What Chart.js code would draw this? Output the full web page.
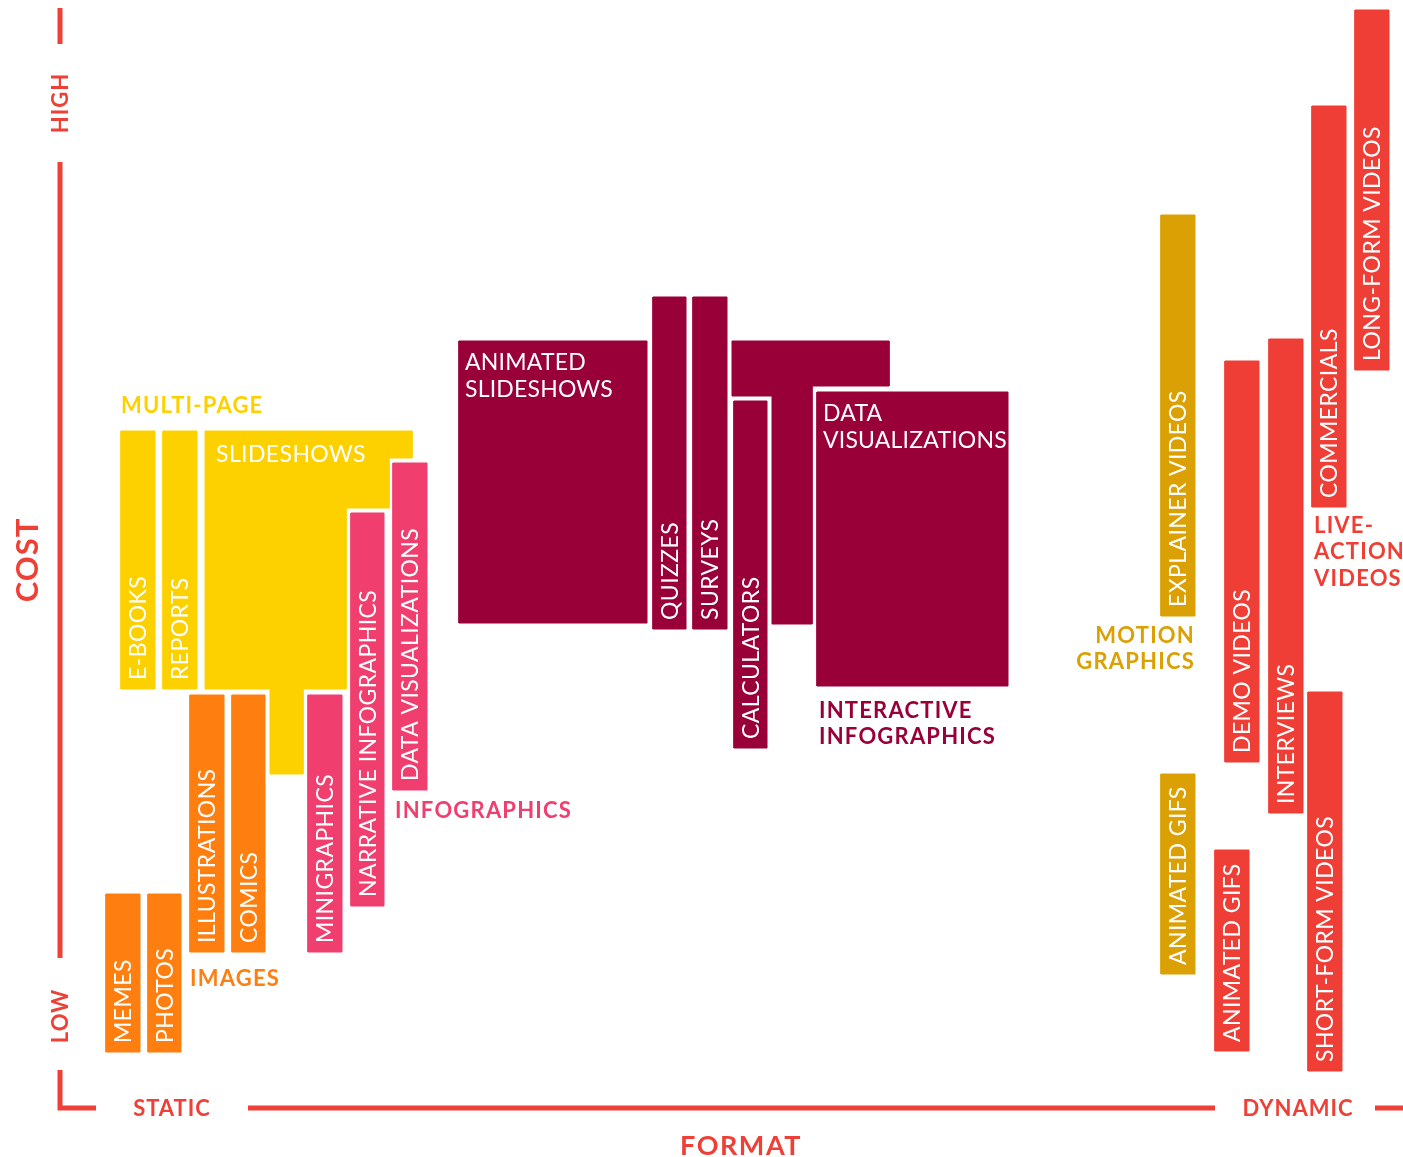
<!DOCTYPE html>
<html>
<head>
<meta charset="utf-8">
<script src="https://cdn.jsdelivr.net/npm/chart.js@4.4.1/dist/chart.umd.min.js"></script>
<style>
  body { margin: 0; background: #fff; }
  #wrap { position: relative; width: 1403px; height: 1157px; }
</style>
</head>
<body>
<div id="wrap"><canvas id="chart"></canvas></div>
<script>
// x = format (static -> dynamic), y = cost (low -> high)
const boxNames = ['E-BOOKS', 'REPORTS', 'MEMES', 'PHOTOS', 'ILLUSTRATIONS', 'COMICS',
  'MINIGRAPHICS', 'NARRATIVE INFOGRAPHICS', 'DATA VISUALIZATIONS',
  'ANIMATED SLIDESHOWS', 'QUIZZES', 'SURVEYS', 'CALCULATORS', 'DATA VISUALIZATIONS',
  'EXPLAINER VIDEOS', 'ANIMATED GIFS',
  'DEMO VIDEOS', 'INTERVIEWS', 'COMMERCIALS', 'LONG-FORM VIDEOS', 'ANIMATED GIFS', 'SHORT-FORM VIDEOS'];
const boxGroups = ['multi', 'multi', 'images', 'images', 'images', 'images',
  'info', 'info', 'info',
  'interactive', 'interactive', 'interactive', 'interactive', 'interactive',
  'motion', 'motion',
  'live', 'live', 'live', 'live', 'live', 'live'];
const formatStart = [6.1, 10.3, 4.6, 8.8, 13.0, 17.2, 24.8, 29.1, 33.3, 39.9, 59.3, 63.3, 67.4, 75.7,
  110.1, 110.1, 116.5, 120.9, 125.2, 129.5, 115.5, 124.8];
const formatEnd = [9.5, 13.7, 8.0, 12.1, 16.4, 20.5, 28.2, 32.4, 36.7, 58.7, 62.6, 66.7, 70.7, 94.8,
  113.5, 113.5, 119.9, 124.3, 128.6, 132.9, 118.9, 128.2];
const costLow = [41.9, 41.9, 5.6, 5.6, 15.6, 15.6, 15.6, 20.2, 31.8, 48.5, 47.9, 47.9, 36.0, 42.2,
  49.2, 13.4, 34.6, 29.5, 60.1, 73.8, 5.7, 3.7];
const costHigh = [67.7, 67.7, 21.4, 21.4, 41.3, 41.3, 41.3, 59.5, 64.5, 76.7, 81.1, 81.1, 70.7, 71.6,
  89.3, 33.4, 74.7, 76.9, 100.2, 109.8, 25.8, 41.6];

// irregular shapes
const slideshowsFormat = [14.5, 35.2, 35.2, 32.9, 32.9, 28.6, 28.6, 24.3, 24.3, 21.0, 21.0, 14.5];
const slideshowsCost = [67.7, 67.7, 65.0, 65.0, 60.0, 60.0, 41.9, 41.9, 33.4, 33.4, 41.9, 41.9];
const interactiveFormat = [67.2, 82.9, 82.9, 75.2, 75.2, 71.2, 71.2, 67.2];
const interactiveCost = [76.7, 76.7, 72.2, 72.2, 48.4, 48.4, 71.2, 71.2];

const groupColors = {
  multi: '#FDD100', images: '#FE7F0F', info: '#F03E6E',
  interactive: '#990038', motion: '#DBA003', live: '#EE3E35'
};
const axisRed = '#EE4036';

// group headings: text lines, anchor, alignment
const headers = [
  { lines: ['MULTI-PAGE'], group: 'multi', x: 6.1, y: 70.3, align: 'left' },
  { lines: ['IMAGES'], group: 'images', x: 13.0, y: 13.0, align: 'left' },
  { lines: ['INFOGRAPHICS'], group: 'info', x: 33.5, y: 29.8, align: 'left' },
  { lines: ['INTERACTIVE', 'INFOGRAPHICS'], group: 'interactive', x: 75.9, y: 39.8, align: 'left' },
  { lines: ['MOTION', 'GRAPHICS'], group: 'motion', x: 113.5, y: 47.3, align: 'right' },
  { lines: ['LIVE-', 'ACTION', 'VIDEOS'], group: 'live', x: 125.4, y: 58.3, align: 'left' }
];

// axis frame pieces
const axisPieces = [
  [[0, 110.0], [0, 106.4]],
  [[0, 94.6], [0, 15.0]],
  [[0, 3.8], [0, 0], [3.6, 0]],
  [[18.8, 0], [115.5, 0]],
  [[131.5, 0], [134.3, 0]]
];

const datasets = [];

function addShape(xs, ys, color) {
  const pts = xs.map((v, i) => ({ x: v, y: ys[i] }));
  pts.push({ x: xs[0], y: ys[0] });
  datasets.push({
    data: pts, showLine: true, fill: 'shape',
    backgroundColor: color, borderColor: color, borderWidth: 1,
    pointRadius: 0, tension: 0
  });
}

addShape(slideshowsFormat, slideshowsCost, groupColors.multi);
addShape(interactiveFormat, interactiveCost, groupColors.interactive);
boxNames.forEach((n, i) => {
  addShape([formatStart[i], formatEnd[i], formatEnd[i], formatStart[i]],
    [costLow[i], costLow[i], costHigh[i], costHigh[i]], groupColors[boxGroups[i]]);
});
axisPieces.forEach(p => {
  datasets.push({
    data: p.map(q => ({ x: q[0], y: q[1] })), showLine: true, fill: false,
    borderColor: axisRed, borderWidth: 5, borderJoinStyle: 'miter', borderCapStyle: 'butt',
    pointRadius: 0, tension: 0
  });
});
// later datasets on top
datasets.forEach((d, i) => { d.order = -i; });

const FONT = 'Lato, "Open Sans", sans-serif';

function capText(ctx, text, x, y, size) {
  ctx.fillText(text, x, y + size * 0.36);
}

const labelPlugin = {
  id: 'labels',
  afterDatasetsDraw(chart) {
    const { ctx, scales: { x, y } } = chart;
    ctx.save();

    // labels inside boxes
    const boxSize = 23;
    ctx.fillStyle = '#fff';
    ctx.font = `400 ${boxSize}px ${FONT}`;
    boxNames.forEach((name, i) => {
      const left = x.getPixelForValue(formatStart[i]);
      const right = x.getPixelForValue(formatEnd[i]);
      const top = y.getPixelForValue(costHigh[i]);
      const bottom = y.getPixelForValue(costLow[i]);
      if (right - left > 60) {
        ctx.letterSpacing = '0.2px';
        ctx.textAlign = 'left';
        name.split(' ').forEach((w, k) => capText(ctx, w, left + 6, top + 21 + k * 27, boxSize));
      } else {
        ctx.letterSpacing = '0.4px';
        ctx.save();
        ctx.translate((left + right) / 2, bottom - 9);
        ctx.rotate(-Math.PI / 2);
        ctx.textAlign = 'left';
        capText(ctx, name, 0, 0, boxSize);
        ctx.restore();
      }
    });
    ctx.textAlign = 'left';
    ctx.letterSpacing = '0.4px';
    capText(ctx, 'SLIDESHOWS', x.getPixelForValue(slideshowsFormat[0]) + 11,
      y.getPixelForValue(slideshowsCost[0]) + 23, boxSize);

    // group headings
    const hSize = 22;
    ctx.font = `700 ${hSize}px ${FONT}`;
    ctx.letterSpacing = '1.2px';
    headers.forEach(h => {
      ctx.fillStyle = groupColors[h.group];
      ctx.textAlign = h.align;
      const px = x.getPixelForValue(h.x);
      const py = y.getPixelForValue(h.y);
      h.lines.forEach((t, k) => capText(ctx, t, px, py + k * 26.5, hSize));
    });

    // axis texts
    ctx.fillStyle = axisRed;
    ctx.textAlign = 'center';
    ctx.letterSpacing = '1px';
    const vert = (t, vx, vy, size) => {
      ctx.save();
      ctx.font = `700 ${size}px ${FONT}`;
      ctx.translate(x.getPixelForValue(vx), y.getPixelForValue(vy));
      ctx.rotate(-Math.PI / 2);
      capText(ctx, t, 0, 0, size);
      ctx.restore();
    };
    vert('HIGH', 0, 100.5, 22);
    vert('LOW', 0, 9.2, 22);
    vert('COST', -3.3, 54.8, 31);
    ctx.font = `700 22px ${FONT}`;
    capText(ctx, 'STATIC', x.getPixelForValue(11.2), y.getPixelForValue(0), 22);
    capText(ctx, 'DYNAMIC', x.getPixelForValue(123.8), y.getPixelForValue(0), 22);
    ctx.letterSpacing = '1.5px';
    ctx.font = `700 27px ${FONT}`;
    capText(ctx, 'FORMAT', x.getPixelForValue(68.1), y.getPixelForValue(-3.7), 27);

    ctx.restore();
  }
};

new Chart(document.getElementById('chart'), {
  type: 'scatter',
  data: { datasets: datasets },
  options: {
    responsive: true,
    maintainAspectRatio: false,
    animation: false,
    layout: { padding: 0 },
    plugins: { legend: { display: false }, tooltip: { enabled: false } },
    scales: {
      x: { type: 'linear', display: false, min: -6.0, max: 134.3 },
      y: { type: 'linear', display: false, min: -4.9, max: 110.8 }
    }
  },
  plugins: [labelPlugin]
});
</script>
</body>
</html>
